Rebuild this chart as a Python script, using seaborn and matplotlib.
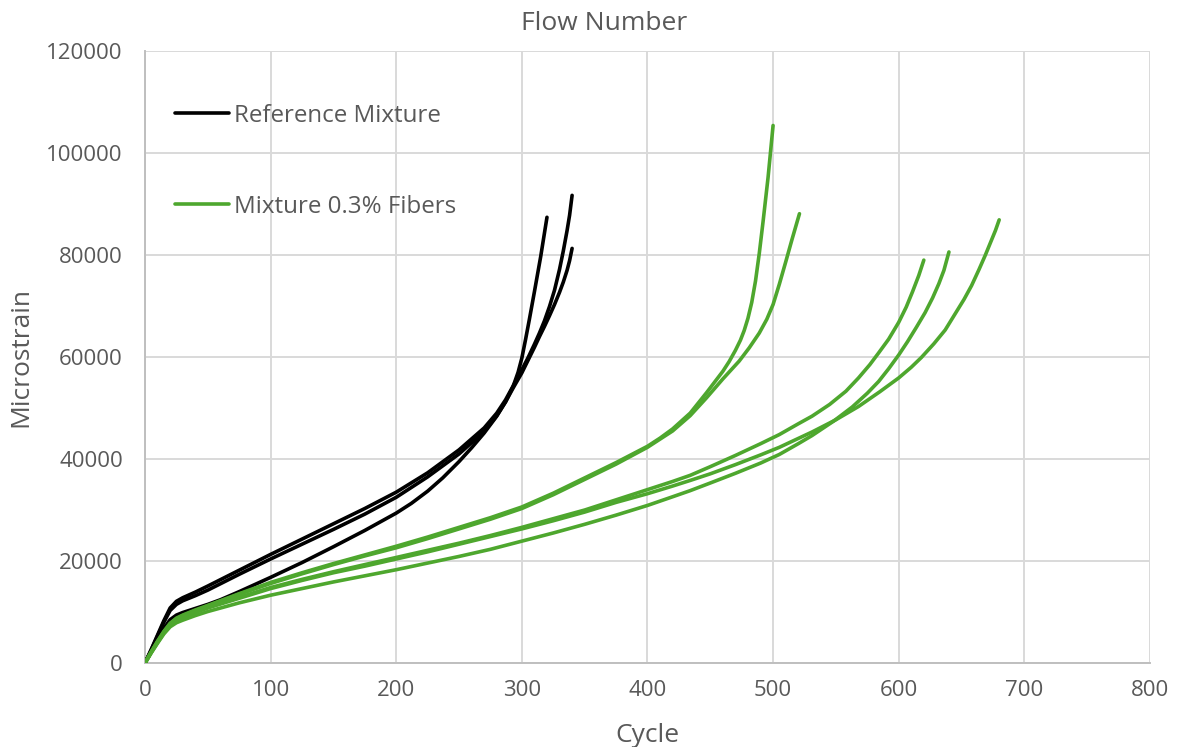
import matplotlib
matplotlib.use("Agg")
import matplotlib.pyplot as plt
import pandas as pd
import seaborn as sns

# ---- Flow number test data: cycle vs. accumulated permanent microstrain ----
# Reference mixture, three specimens
ref_a_cycle = [0, 5, 10, 15, 20, 25, 30, 40, 50, 60, 75, 100, 125, 150, 175, 200, 212, 225,
               237, 250, 260, 270, 280, 287, 293, 297, 300, 303, 306, 310, 315, 320]
ref_a_strain = [0, 2300, 4600, 6800, 8500, 9400, 9900, 10700, 11500, 12400, 14000, 16800,
                19700, 22800, 26000, 29400, 31300, 33700, 36300, 39500, 42200, 45100, 48400,
                51200, 54200, 57000, 59800, 63500, 67400, 72800, 79700, 87400]

ref_b_cycle = [0, 5, 10, 15, 20, 25, 30, 40, 50, 75, 100, 125, 150, 175, 200, 225, 250, 270,
               280, 287, 293, 300, 305, 310, 314, 318, 322, 326, 330, 333, 336, 338, 340]
ref_b_strain = [0, 2700, 5500, 8300, 10800, 12100, 12800, 13900, 15100, 18200, 21300, 24300,
                27300, 30300, 33500, 37300, 41800, 46100, 49000, 51600, 54300, 57500, 59900,
                62500, 64700, 67100, 69900, 73100, 77200, 80800, 84800, 87800, 91700]

ref_c_cycle = [0, 5, 10, 15, 20, 25, 30, 40, 50, 75, 100, 125, 150, 175, 200, 225, 250, 270,
               280, 287, 293, 300, 305, 310, 314, 318, 322, 326, 330, 333, 336, 338, 340]
ref_c_strain = [0, 2600, 5300, 8000, 10300, 11500, 12200, 13200, 14300, 17400, 20400, 23300,
                26200, 29200, 32500, 36500, 41000, 45400, 48500, 51200, 53900, 56900, 59400,
                61900, 64000, 66000, 68100, 70300, 72700, 74700, 77000, 78900, 81300]

# Mixture with 0.3% fibers, five specimens
fib_a_cycle = [0, 5, 10, 15, 20, 25, 30, 40, 50, 75, 100, 125, 150, 175, 200, 225, 250, 275,
               300, 325, 350, 375, 400, 410, 420, 434, 447, 460, 465, 470, 474, 477, 480,
               483, 486, 489, 492, 496, 500]
fib_a_strain = [0, 2200, 4300, 6200, 7800, 8800, 9400, 10400, 11300, 13600, 15800, 17700,
                19500, 21200, 22900, 24700, 26600, 28500, 30600, 33300, 36300, 39300, 42500,
                44100, 45900, 49000, 53000, 57200, 59100, 61300, 63300, 65200, 67600, 70700,
                74900, 80300, 86500, 95200, 105400]

fib_b_cycle = [0, 5, 10, 15, 20, 25, 30, 40, 50, 75, 100, 125, 150, 175, 200, 225, 250, 275,
               300, 325, 350, 375, 400, 410, 420, 434, 447, 460, 473, 481, 489, 495, 500,
               505, 510, 515, 521]
fib_b_strain = [0, 2200, 4200, 6100, 7700, 8700, 9300, 10300, 11200, 13500, 15600, 17500,
                19300, 21000, 22600, 24400, 26300, 28200, 30300, 33000, 36000, 39000, 42300,
                43900, 45500, 48500, 52000, 55700, 59200, 61800, 64700, 67400, 70300, 74300,
                78600, 83000, 88100]

fib_c_cycle = [0, 5, 10, 15, 20, 25, 30, 40, 50, 75, 100, 125, 150, 175, 200, 225, 250, 275,
               300, 325, 350, 375, 400, 420, 434, 450, 470, 490, 505, 520, 531, 545, 558,
               568, 577, 584, 592, 600, 606, 611, 616, 620]
fib_c_strain = [0, 2100, 4100, 6000, 7500, 8400, 9000, 10000, 10900, 12900, 14800, 16400,
                17900, 19300, 20700, 22100, 23500, 25000, 26600, 28300, 30000, 32000, 34000,
                35600, 36800, 38500, 40700, 43000, 44800, 46900, 48400, 50700, 53300, 55900,
                58500, 60800, 63500, 66800, 69800, 72800, 76000, 79000]

fib_d_cycle = [0, 5, 10, 15, 20, 25, 30, 40, 50, 75, 100, 125, 150, 175, 200, 225, 250, 275,
               300, 325, 350, 375, 400, 420, 434, 450, 470, 490, 505, 520, 531, 548, 563,
               575, 584, 592, 600, 607, 614, 621, 627, 632, 636, 640]
fib_d_strain = [0, 2000, 3900, 5700, 7100, 7900, 8400, 9300, 10100, 11800, 13300, 14600,
                15900, 17100, 18300, 19600, 20900, 22300, 23900, 25500, 27200, 29000, 30900,
                32600, 33800, 35300, 37200, 39200, 40900, 43000, 44600, 47400, 50200, 52900,
                55200, 57700, 60400, 63000, 65800, 68700, 71600, 74400, 77000, 80600]

fib_e_cycle = [0, 5, 10, 15, 20, 25, 30, 40, 50, 75, 100, 125, 150, 175, 200, 225, 250, 275,
               300, 325, 350, 375, 400, 420, 434, 450, 470, 490, 505, 531, 550, 568, 585,
               600, 610, 618, 628, 637, 645, 652, 658, 664, 669, 674, 677, 680]
fib_e_strain = [0, 2100, 4000, 5900, 7400, 8300, 8900, 9900, 10800, 12700, 14600, 16200,
                17700, 19000, 20400, 21800, 23300, 24800, 26300, 27900, 29600, 31500, 33200,
                34700, 35800, 37100, 38900, 40800, 42300, 45300, 47700, 50300, 53200, 55900,
                58000, 59900, 62600, 65300, 68500, 71300, 74000, 77200, 80000, 83000, 84800,
                86900]

group_ref = "Reference Mixture"
group_fib = "Mixture 0.3% Fibers"

specimens = [
    (group_ref, "R1", ref_a_cycle, ref_a_strain),
    (group_ref, "R2", ref_b_cycle, ref_b_strain),
    (group_ref, "R3", ref_c_cycle, ref_c_strain),
    (group_fib, "F1", fib_a_cycle, fib_a_strain),
    (group_fib, "F2", fib_b_cycle, fib_b_strain),
    (group_fib, "F3", fib_c_cycle, fib_c_strain),
    (group_fib, "F4", fib_d_cycle, fib_d_strain),
    (group_fib, "F5", fib_e_cycle, fib_e_strain),
]

frames = [pd.DataFrame({"Cycle": c, "Microstrain": s, "Mixture": g, "Specimen": sid})
          for g, sid, c, s in specimens]
df = pd.concat(frames, ignore_index=True)

x_ticks = [0, 100, 200, 300, 400, 500, 600, 700, 800]
y_ticks = [0, 20000, 40000, 60000, 80000, 100000, 120000]

sns.set_theme(style="white")
plt.rcParams["font.family"] = ["Open Sans", "DejaVu Sans"]

text_grey = "#595959"
palette = {group_ref: "#000000", group_fib: "#4ea72e"}

fig = plt.figure(figsize=(11.77, 7.47), dpi=100)
ax = fig.add_axes([0.1232, 0.1124, 0.8538, 0.8193])

sns.lineplot(data=df, x="Cycle", y="Microstrain", hue="Mixture", units="Specimen",
             estimator=None, palette=palette, linewidth=2.6, ax=ax,
             solid_capstyle="round", solid_joinstyle="round", zorder=3)

ax.set_xlim(0, 800)
ax.set_ylim(0, 120000)
ax.set_xticks(x_ticks)
ax.set_yticks(y_ticks)
ax.set_xticklabels([str(v) for v in x_ticks])
ax.set_yticklabels([str(v) for v in y_ticks])
ax.tick_params(axis="both", length=0, labelsize=16, labelcolor=text_grey)
ax.tick_params(axis="x", pad=12)
ax.tick_params(axis="y", pad=16)

ax.grid(True, color="#d9d9d9", linewidth=1.4, zorder=0)
ax.set_axisbelow(True)
for side in ("top", "right"):
    ax.spines[side].set_visible(False)
for side in ("left", "bottom"):
    ax.spines[side].set_color("#bfbfbf")
    ax.spines[side].set_linewidth(1.4)

ax.set_xlabel("Cycle", fontsize=19, color=text_grey, labelpad=16)
ax.set_ylabel("Microstrain", fontsize=19, color=text_grey, labelpad=9)
ax.set_title("Flow Number", fontsize=19, color=text_grey, pad=15, x=0.4567)

handles, labels = ax.get_legend_handles_labels()
leg = ax.legend(handles, labels, loc="upper left", bbox_to_anchor=(0.03, 0.914),
                frameon=False, fontsize=17.4, handlelength=2.23, handletextpad=0.2,
                labelspacing=2.77, borderpad=0, borderaxespad=0)
for t in leg.get_texts():
    t.set_color(text_grey)
for h in leg.get_lines():
    h.set_linewidth(2.6)

fig.savefig("out.png", dpi=100)
